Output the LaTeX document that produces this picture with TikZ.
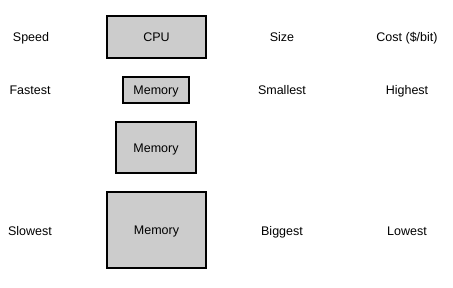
\documentclass[tikz,border=0pt]{standalone}
\usepackage{fontspec}
\setmainfont{Liberation Sans}
\begin{document}
\begin{tikzpicture}[x=1pt,y=-1pt,
  membox/.style={draw=black,line width=2pt,fill=black!20,inner sep=0pt},
  lbl/.style={font=\fontsize{12.5}{14}\selectfont,inner sep=0pt,text height=9pt,text depth=0pt}]
\useasboundingbox (0,0) rectangle (453,287);
\node[membox,minimum width=99pt,minimum height=42pt] (cpu) at (156.5,37) {};
\node[lbl] at (cpu.center) {CPU};
\node[membox,minimum width=66pt,minimum height=26pt] (m1) at (156,90) {};
\node[lbl] at (m1.center) {Memory};
\node[membox,minimum width=80pt,minimum height=51pt] (m2) at (156,147.5) {};
\node[lbl] at (m2.center) {Memory};
\node[membox,minimum width=99pt,minimum height=76pt] (m3) at (156.5,230) {};
\node[lbl] at (m3.center) {Memory};
\node[lbl] (speed) at (31,37) {Speed};
\node[lbl] (size) at (282,37) {Size};
\node[lbl] (cost) at (407,37) {Cost (\$/bit)};
\node[lbl] (fast) at (30,90) {Fastest};
\node[lbl] (small) at (282,90) {Smallest};
\node[lbl] (high) at (407,90) {Highest};
\node[lbl] (slow) at (30,231) {Slowest};
\node[lbl] (big) at (282,231) {Biggest};
\node[lbl] (low) at (407,231) {Lowest};
\end{tikzpicture}
\end{document}
